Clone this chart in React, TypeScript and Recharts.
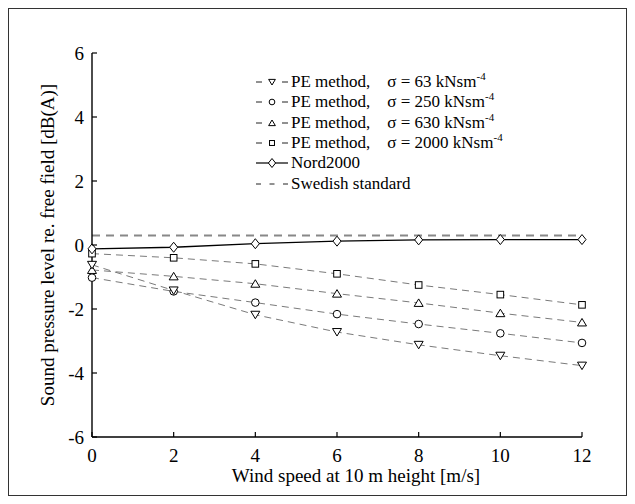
import { LineChart, Line, XAxis, YAxis, Legend } from "recharts";

// wind speed at 10 m height [m/s]
const windSpeed = [0, 2, 4, 6, 8, 10, 12];
// sound pressure level re. free field [dB(A)]
const pe63 = [-0.62, -1.42, -2.18, -2.72, -3.12, -3.46, -3.77];
const pe250 = [-1.02, -1.45, -1.8, -2.16, -2.47, -2.76, -3.06];
const pe630 = [-0.78, -0.98, -1.21, -1.52, -1.81, -2.13, -2.42];
const pe2000 = [-0.27, -0.4, -0.59, -0.9, -1.25, -1.55, -1.87];
const nord2000 = [-0.12, -0.07, 0.04, 0.12, 0.16, 0.17, 0.17];
const swedish = [0.3, 0.3, 0.3, 0.3, 0.3, 0.3, 0.3];

const xTicks = [0, 2, 4, 6, 8, 10, 12];
const yTicks = [-6, -4, -2, 0, 2, 4, 6];

const data = windSpeed.map((w, i) => ({
  w,
  pe63: pe63[i],
  pe250: pe250[i],
  pe630: pe630[i],
  pe2000: pe2000[i],
  nord2000: nord2000[i],
  swedish: swedish[i],
}));

const FONT = '"Liberation Serif", "Times New Roman", serif';
const PE_GRAY = "#7a7a7a";

type Kind = "down" | "circle" | "up" | "square" | "diamond";

function Marker({ kind, cx, cy, s = 1 }: { kind: Kind; cx: number; cy: number; s?: number }) {
  const common = { fill: "#fff", stroke: "#000", strokeWidth: 1 };
  switch (kind) {
    case "down":
      return (
        <polygon
          {...common}
          points={`${cx - 4.5 * s},${cy - 3.5 * s} ${cx + 4.5 * s},${cy - 3.5 * s} ${cx},${cy + 4 * s}`}
        />
      );
    case "up":
      return (
        <polygon
          {...common}
          points={`${cx - 4.5 * s},${cy + 3.5 * s} ${cx + 4.5 * s},${cy + 3.5 * s} ${cx},${cy - 4 * s}`}
        />
      );
    case "circle":
      return <circle {...common} cx={cx} cy={cy} r={3.8 * s} />;
    case "square":
      return <rect {...common} x={cx - 3.3 * s} y={cy - 3.3 * s} width={6.6 * s} height={6.6 * s} />;
    default:
      return (
        <polygon
          {...common}
          points={`${cx},${cy - 5 * s} ${cx + 4 * s},${cy} ${cx},${cy + 5 * s} ${cx - 4 * s},${cy}`}
        />
      );
  }
}

const dotOf = (kind: Kind) => (p: any) => (
  <Marker key={`${kind}-${p.index}`} kind={kind} cx={p.cx} cy={p.cy} />
);

const XTick = (props: any) => {
  const { x, y, payload } = props;
  return (
    <g>
      <line x1={x} y1={y} x2={x} y2={y - 5} stroke="#000" strokeWidth={1.2} />
      <text x={x} y={y + 25} textAnchor="middle" fontSize={19} fontFamily={FONT} fill="#000">
        {payload.value}
      </text>
    </g>
  );
};

const YTick = (props: any) => {
  const { x, y, payload } = props;
  return (
    <g>
      <line x1={x} y1={y} x2={x + 5} y2={y} stroke="#000" strokeWidth={1.2} />
      <text x={x - 8} y={y + 6.5} textAnchor="end" fontSize={19} fontFamily={FONT} fill="#000">
        {payload.value}
      </text>
    </g>
  );
};

const legendRows: { kind: Kind | null; label: string; sigma?: string; style: "pe" | "nord" | "swe" }[] = [
  { kind: "down", label: "PE method,", sigma: "63", style: "pe" },
  { kind: "circle", label: "PE method,", sigma: "250", style: "pe" },
  { kind: "up", label: "PE method,", sigma: "630", style: "pe" },
  { kind: "square", label: "PE method,", sigma: "2000", style: "pe" },
  { kind: "diamond", label: "Nord2000", style: "nord" },
  { kind: null, label: "Swedish standard", style: "swe" },
];

const LegendBox = () => (
  <div style={{ fontFamily: FONT, fontSize: 17, color: "#000" }}>
    {legendRows.map((r, i) => (
      <div key={i} style={{ display: "flex", alignItems: "center", height: 20.3 }}>
        <svg width={35} height={20} style={{ flex: "none" }}>
          {r.style === "pe" && (
            <g>
              <line x1={0} y1={10} x2={6} y2={10} stroke="#222" strokeWidth={1} />
              <line x1={26} y1={10} x2={32} y2={10} stroke="#222" strokeWidth={1} />
              <Marker kind={r.kind as Kind} cx={16} cy={10} s={0.75} />
            </g>
          )}
          {r.style === "nord" && (
            <g>
              <line x1={0} y1={10} x2={32} y2={10} stroke="#000" strokeWidth={1.2} />
              <Marker kind="diamond" cx={16} cy={10} s={0.9} />
            </g>
          )}
          {r.style === "swe" && (
            <g stroke="#222" strokeWidth={1}>
              <line x1={0} y1={10} x2={5} y2={10} />
              <line x1={13.5} y1={10} x2={18.5} y2={10} />
              <line x1={27} y1={10} x2={32} y2={10} />
            </g>
          )}
        </svg>
        <span style={{ whiteSpace: "pre" }}>
          {r.label}
          {r.sigma && (
            <>
              {"    σ = " + r.sigma + " kNsm"}
              <span style={{ fontSize: 11, position: "relative", top: -7 }}>-4</span>
            </>
          )}
        </span>
      </div>
    ))}
  </div>
);

const XLabel = (props: any) => {
  const { viewBox } = props;
  return (
    <text
      x={viewBox.x + viewBox.width / 2 + 19}
      y={viewBox.y + 45}
      textAnchor="middle"
      fontSize={19}
      fontFamily={FONT}
      fill="#000"
    >
      Wind speed at 10 m height [m/s]
    </text>
  );
};

const YLabel = (props: any) => {
  const { viewBox } = props;
  const cx = 38;
  const cy = viewBox.y + viewBox.height / 2;
  return (
    <text
      x={cx}
      y={cy}
      transform={`rotate(-90 ${cx} ${cy})`}
      textAnchor="middle"
      dominantBaseline="central"
      fontSize={19}
      fontFamily={FONT}
      fill="#000"
    >
      Sound pressure level re. free field [dB(A)]
    </text>
  );
};

export default function App() {
  return (
    <div style={{ width: 617, height: 486, border: "1px solid #333", background: "#fff" }}>
      <LineChart
        width={617}
        height={486}
        data={data}
        margin={{ top: 44, right: 44, bottom: 28, left: 23 }}
      >
        <XAxis
          dataKey="w"
          type="number"
          domain={[0, 12]}
          ticks={xTicks}
          tickSize={0}
          tickMargin={0}
          tickLine={false}
          tick={XTick}
          height={30}
          axisLine={{ stroke: "#000", strokeWidth: 1.4 }}
          label={<XLabel />}
        />
        <YAxis
          type="number"
          domain={[-6, 6]}
          ticks={yTicks}
          tickSize={0}
          tickMargin={0}
          tickLine={false}
          tick={YTick}
          width={60}
          axisLine={{ stroke: "#000", strokeWidth: 1.4 }}
          label={<YLabel />}
        />
        <Legend
          layout="vertical"
          align="center"
          verticalAlign="middle"
          content={LegendBox}
          wrapperStyle={{ left: 247, top: 63, width: 340 }}
        />
        <Line
          dataKey="swedish"
          stroke="#888"
          strokeWidth={2}
          strokeDasharray="8 6"
          dot={false}
          isAnimationActive={false}
        />
        <Line
          dataKey="pe2000"
          stroke={PE_GRAY}
          strokeWidth={1}
          strokeDasharray="7 5"
          dot={dotOf("square")}
          isAnimationActive={false}
        />
        <Line
          dataKey="pe630"
          stroke={PE_GRAY}
          strokeWidth={1}
          strokeDasharray="7 5"
          dot={dotOf("up")}
          isAnimationActive={false}
        />
        <Line
          dataKey="pe250"
          stroke={PE_GRAY}
          strokeWidth={1}
          strokeDasharray="7 5"
          dot={dotOf("circle")}
          isAnimationActive={false}
        />
        <Line
          dataKey="pe63"
          stroke={PE_GRAY}
          strokeWidth={1}
          strokeDasharray="7 5"
          dot={dotOf("down")}
          isAnimationActive={false}
        />
        <Line
          dataKey="nord2000"
          stroke="#000"
          strokeWidth={1.3}
          dot={dotOf("diamond")}
          isAnimationActive={false}
        />
      </LineChart>
    </div>
  );
}
